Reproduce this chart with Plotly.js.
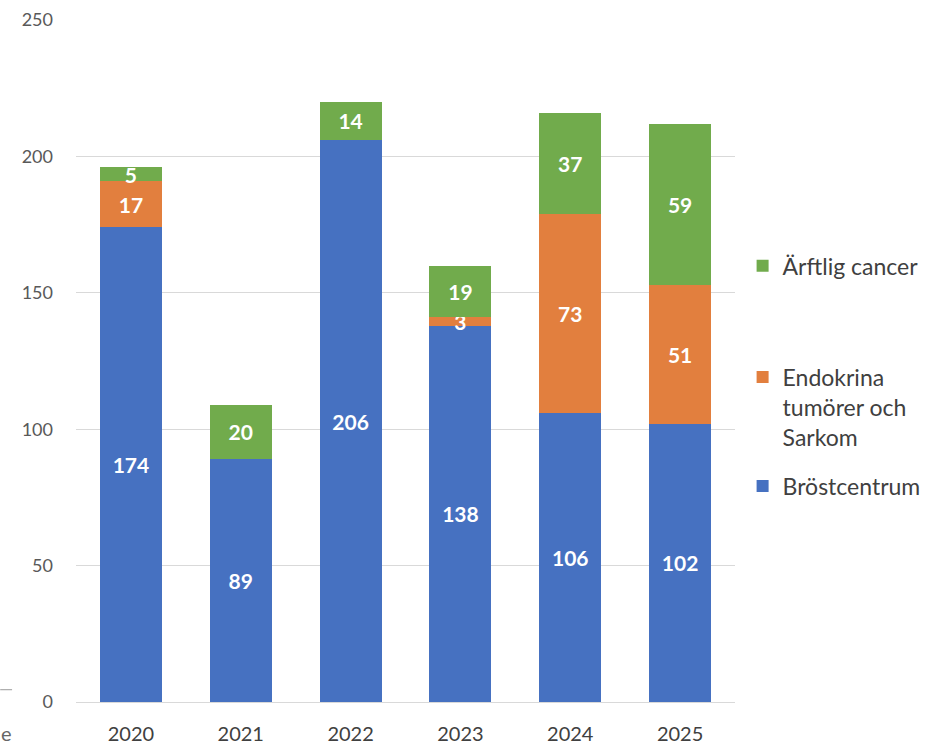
<!DOCTYPE html>
<html><head><meta charset="utf-8">
<script src="https://cdn.plot.ly/plotly-3.0.1.min.js"></script>
<style>html,body{margin:0;padding:0;background:#fff}</style>
</head><body>
<div id="chart" style="width:937px;height:748px"></div>
<script>
const years = ['2020','2021','2022','2023','2024','2025'];
const brostcentrum = [174, 89, 206, 138, 106, 102];
const endokrina = [17, 0, 0, 3, 73, 51];
const arftlig = [5, 20, 14, 19, 37, 59];
const names = ['Bröstcentrum', 'Endokrina<br>tumörer och<br>Sarkom', 'Ärftlig cancer'];
const colors = ['#4671C1', '#E27F3E', '#71AB4C'];
const yTicks = [0, 50, 100, 150, 200, 250];

const series = [brostcentrum, endokrina, arftlig];
const legends = ['legend3', 'legend2', 'legend'];
const traces = series.map((vals, i) => ({
  type: 'bar', x: years, y: vals, name: names[i],
  marker: {color: colors[i]},
  text: vals.map(v => v > 0 ? String(v) : ''),
  textposition: 'inside', insidetextanchor: 'middle', textangle: 0,
  constraintext: 'none', cliponaxis: false,
  textfont: {family: 'Lato, "Open Sans", sans-serif', size: 21, color: '#ffffff', weight: 'bold'},
  hoverinfo: 'skip',
  legend: legends[i]
}));

const legFont = {family: 'Lato, "Open Sans", sans-serif', size: 23, color: '#404040'};
const legBase = {xanchor: 'left', yanchor: 'top', bgcolor: 'rgba(0,0,0,0)', font: legFont, valign: 'top', itemwidth: 30, tracegroupgap: 0};

const layout = {
  width: 937, height: 748,
  margin: {l: 76, r: 201, t: 20, b: 46},
  paper_bgcolor: '#ffffff', plot_bgcolor: '#ffffff',
  barmode: 'stack', bargap: 0.436,
  font: {family: 'Lato, "Open Sans", sans-serif', color: '#595959'},
  xaxis: {
    type: 'category', showgrid: false, showline: false, zeroline: false,
    ticks: '', tickfont: {size: 20, color: '#404040'}, ticklabelstandoff: 18
  },
  yaxis: {
    range: [0, 250], tickvals: yTicks, ticktext: yTicks.map(String),
    showgrid: true, gridcolor: '#d9d9d9', gridwidth: 1, zeroline: true, zerolinecolor: '#d9d9d9',
    showline: false, ticks: '', tickfont: {size: 18, color: '#595959'}, ticklabelstandoff: 22
  },
  legend: Object.assign({}, legBase, {x: 1.01, y: 0.671}),
  legend2: Object.assign({}, legBase, {x: 1.01, y: 0.508}),
  legend3: Object.assign({}, legBase, {x: 1.01, y: 0.348}),
  showlegend: true,
  shapes: [{type: 'line', xref: 'paper', yref: 'paper', x0: -0.115, x1: -0.097, y0: 0.018, y1: 0.018,
    line: {color: '#999999', width: 1}}],
  annotations: [{xref: 'paper', yref: 'paper', x: -0.117, y: -0.045, xanchor: 'left', yanchor: 'middle',
    text: 'e', showarrow: false, font: {size: 20, color: '#666666'}}]
};

Plotly.newPlot('chart', traces, layout, {displayModeBar: false, staticPlot: true});
</script>
</body></html>
